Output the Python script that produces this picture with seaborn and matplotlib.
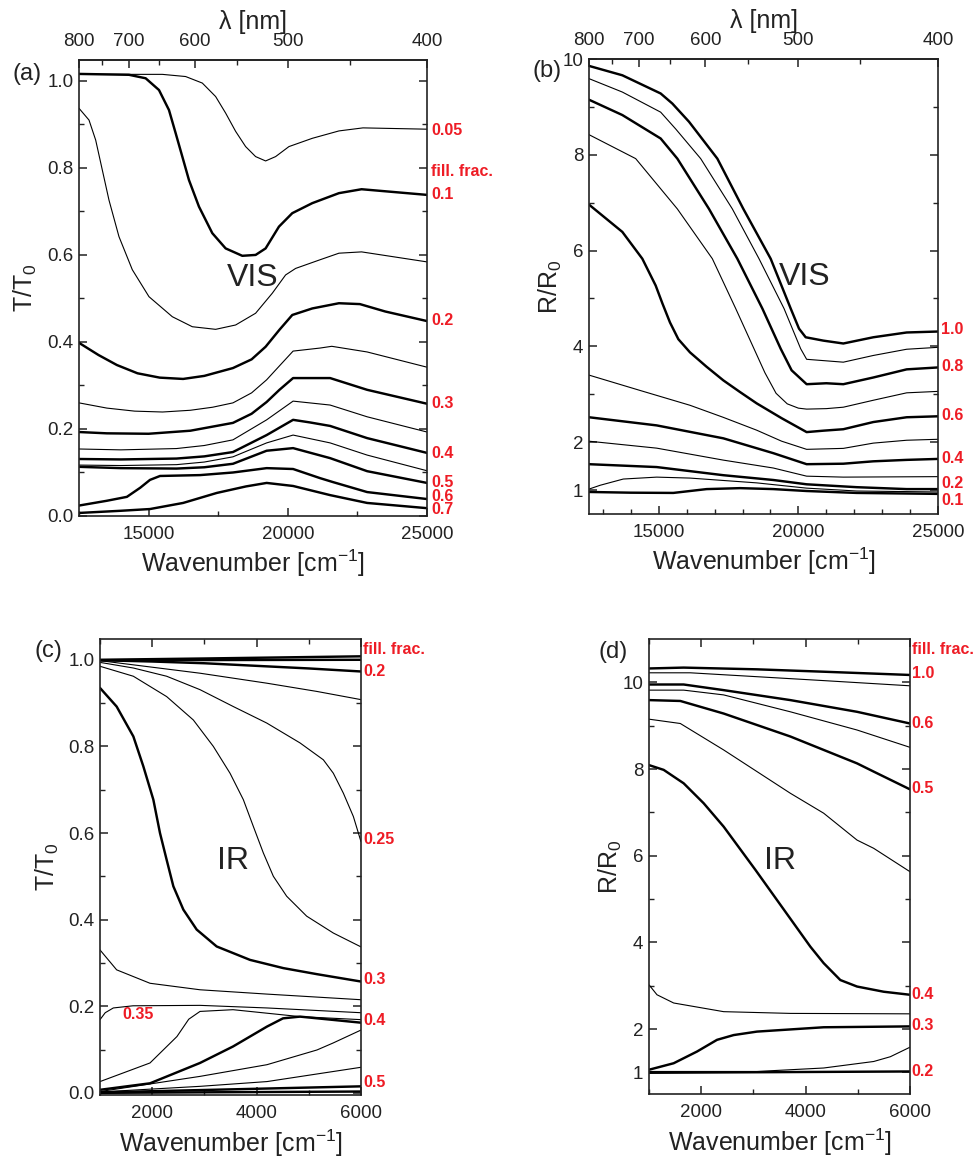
import numpy as np
import pandas as pd
import matplotlib
matplotlib.use("Agg")
import matplotlib.pyplot as plt
from matplotlib.ticker import FixedLocator, MultipleLocator, FormatStrFormatter
import seaborn as sns

sns.set_theme(style="ticks")
plt.rcParams['font.family'] = ['Liberation Sans', 'DejaVu Sans']
plt.rcParams['mathtext.fontset'] = 'custom'
plt.rcParams['mathtext.rm'] = 'Liberation Sans'
plt.rcParams['mathtext.it'] = 'Liberation Sans'
plt.rcParams['mathtext.default'] = 'regular'

# ---------------- Panel (a): T/T0, visible ----------------
a_005 = [(12500, 1.015), (15493, 1.015), (16330, 1.01), (16929, 0.995), (17408, 0.964), (17767, 0.926),
         (18126, 0.884), (18485, 0.849), (18844, 0.826), (19203, 0.816), (19562, 0.826), (20041, 0.849),
         (20879, 0.868), (21837, 0.885), (22700, 0.892), (25000, 0.889)]
a_01 = [(12500, 1.016), (14296, 1.014), (14894, 1.006), (15373, 0.979), (15732, 0.933), (15971, 0.88),
        (16211, 0.826), (16450, 0.772), (16809, 0.711), (17288, 0.65), (17767, 0.615), (18365, 0.598),
        (18844, 0.6), (19203, 0.615), (19682, 0.665), (20161, 0.696), (20879, 0.719), (21837, 0.742),
        (22650, 0.751), (25000, 0.738)]
a_015 = [(12500, 0.937), (12859, 0.91), (13099, 0.864), (13338, 0.795), (13577, 0.726), (13936, 0.642),
         (14415, 0.566), (15014, 0.504), (15852, 0.458), (16570, 0.435), (17408, 0.429), (18126, 0.439),
         (18844, 0.466), (19443, 0.512), (19921, 0.554), (20281, 0.569), (21118, 0.588), (21837, 0.604),
         (22650, 0.607), (25000, 0.584)]
a_02 = [(12500, 0.398), (13200, 0.37), (13860, 0.347), (14600, 0.328), (15400, 0.318), (16240, 0.315),
        (17000, 0.322), (18030, 0.34), (18700, 0.36), (19203, 0.389), (19700, 0.428), (20161, 0.462),
        (20879, 0.477), (21837, 0.489), (22590, 0.487), (23500, 0.47), (25000, 0.448)]
a_025 = [(12500, 0.26), (13500, 0.248), (14500, 0.241), (15500, 0.239), (16500, 0.243), (17300, 0.25),
         (18030, 0.26), (18700, 0.283), (19240, 0.313), (19700, 0.345), (20190, 0.379), (21160, 0.386),
         (21580, 0.39), (22850, 0.377), (25000, 0.342)]
a_03 = [(12500, 0.193), (13500, 0.19), (15000, 0.189), (16500, 0.196), (18030, 0.214), (18700, 0.235),
        (19240, 0.262), (19700, 0.29), (20190, 0.317), (20800, 0.317), (21520, 0.317), (22850, 0.29),
        (25000, 0.258)]
a_035 = [(12500, 0.154), (14000, 0.152), (16000, 0.155), (17000, 0.162), (18030, 0.175), (19240, 0.221),
         (20190, 0.264), (21520, 0.255), (22850, 0.228), (25000, 0.193)]
a_04 = [(12500, 0.131), (14000, 0.13), (16000, 0.132), (17000, 0.137), (18030, 0.147), (19240, 0.186),
        (20190, 0.221), (20800, 0.215), (21520, 0.207), (22850, 0.179), (25000, 0.145)]
a_045 = [(12500, 0.117), (14000, 0.116), (16000, 0.118), (17000, 0.124), (18030, 0.136), (19240, 0.168),
         (20190, 0.186), (21520, 0.168), (22850, 0.14), (25000, 0.104)]
a_05 = [(12500, 0.113), (14000, 0.11), (16000, 0.109), (17000, 0.112), (18030, 0.12), (19240, 0.15),
        (20190, 0.156), (21520, 0.133), (22850, 0.103), (25000, 0.076)]
a_06 = [(12500, 0.024), (13500, 0.035), (14220, 0.044), (14700, 0.065), (15050, 0.083), (15410, 0.092),
        (16850, 0.094), (18030, 0.1), (19240, 0.11), (20190, 0.108), (21160, 0.087), (21620, 0.078),
        (22850, 0.055), (25000, 0.039)]
a_07 = [(12500, 0.007), (14000, 0.012), (15050, 0.016), (16240, 0.03), (17450, 0.053), (18500, 0.068),
        (19240, 0.076), (20190, 0.069), (21520, 0.048), (22850, 0.03), (25000, 0.018)]

# ---------------- Panel (b): R/R0, visible ----------------
b_10 = [(12500, 9.856), (13694, 9.66), (15067, 9.28), (15485, 9.07), (16082, 8.69), (17097, 7.92),
        (18028, 6.87), (19007, 5.83), (19724, 4.79), (20022, 4.37), (20261, 4.19), (20892, 4.12),
        (21609, 4.06), (22683, 4.19), (23878, 4.29), (25000, 4.31)]
b_09 = [(12500, 9.59), (13694, 9.31), (15067, 8.89), (15604, 8.54), (16500, 7.92), (17634, 6.87),
        (18589, 5.83), (19485, 4.79), (20082, 3.95), (20295, 3.73), (21609, 3.67), (22683, 3.81),
        (23878, 3.94), (25000, 3.98)]
b_08 = [(12500, 9.15), (13694, 8.83), (15067, 8.34), (15664, 7.92), (16798, 6.87), (17813, 5.83),
        (18709, 4.79), (19366, 3.95), (19757, 3.5), (20295, 3.21), (21000, 3.23), (21609, 3.21),
        (22683, 3.35), (23878, 3.52), (25000, 3.56)]
b_07 = [(12500, 8.42), (14172, 7.92), (15664, 6.87), (16918, 5.83), (17754, 4.79), (18410, 3.95),
        (18800, 3.45), (19200, 3.02), (19600, 2.8), (20000, 2.71), (20295, 2.69), (21000, 2.7),
        (21609, 2.73), (22683, 2.875), (23878, 3.03), (25000, 3.06)]
b_06 = [(12500, 6.96), (13694, 6.39), (14410, 5.83), (14888, 5.27), (15127, 4.9), (15400, 4.5),
        (15700, 4.15), (16117, 3.875), (16700, 3.58), (17312, 3.29), (17900, 3.05), (18506, 2.81),
        (19400, 2.5), (20295, 2.21), (20900, 2.24), (21609, 2.27), (22683, 2.42), (23878, 2.52),
        (25000, 2.54)]
b_05 = [(12500, 3.40), (14327, 3.08), (16117, 2.77), (17300, 2.52), (18506, 2.25), (19400, 2.02),
        (20295, 1.85), (21609, 1.87), (22683, 1.98), (23878, 2.04), (25000, 2.06)]
b_04 = [(12500, 2.52), (14924, 2.35), (17312, 2.08), (19102, 1.77), (20295, 1.54), (21609, 1.55),
        (22683, 1.6), (23878, 1.63), (25000, 1.65)]
b_03 = [(12500, 2.02), (14924, 1.875), (17312, 1.625), (19102, 1.46), (20295, 1.29), (21609, 1.27),
        (25000, 1.28)]
b_02 = [(12500, 1.54), (14924, 1.48), (17312, 1.31), (19102, 1.21), (20295, 1.12), (22086, 1.06),
        (23878, 1.02), (25000, 1.02)]
b_015 = [(12500, 1.02), (12900, 1.1), (13728, 1.23), (14924, 1.27), (16117, 1.25), (18506, 1.15),
         (20295, 1.04), (22086, 0.98), (25000, 0.96)]
b_01 = [(12500, 0.96), (14000, 0.945), (15519, 0.94), (16714, 1.02), (17910, 1.04), (19102, 1.02),
        (20295, 0.98), (22086, 0.94), (25000, 0.92)]

# ---------------- Panel (c): T/T0, infrared ----------------
c_005 = [(1000, 1.0), (3000, 1.003), (6000, 1.008)]
c_01 = [(1000, 0.999), (6000, 1.0)]
c_02 = [(1000, 0.999), (2000, 0.996), (3000, 0.992), (4000, 0.986), (5000, 0.98), (6000, 0.973)]
c_022 = [(1000, 0.998), (2916, 0.969), (4193, 0.946), (5151, 0.927), (6000, 0.908)]
c_025 = [(1000, 0.994), (1639, 0.981), (2277, 0.962), (2916, 0.931), (3554, 0.892), (4193, 0.854),
         (4832, 0.808), (5279, 0.769), (5470, 0.738), (5662, 0.692), (5854, 0.638), (6000, 0.58)]
c_027 = [(1000, 0.985), (1639, 0.962), (2277, 0.915), (2788, 0.861), (3171, 0.8), (3491, 0.738),
         (3746, 0.677), (3938, 0.615), (4129, 0.554), (4321, 0.5), (4576, 0.454), (4959, 0.408),
         (5470, 0.369), (6000, 0.337)]
c_03 = [(1000, 0.935), (1319, 0.892), (1639, 0.823), (1830, 0.754), (2022, 0.677), (2149, 0.6),
        (2277, 0.538), (2405, 0.477), (2597, 0.423), (2852, 0.377), (3235, 0.338), (3874, 0.307),
        (4512, 0.288), (5157, 0.274), (6000, 0.257)]
c_032 = [(1000, 0.330), (1319, 0.284), (1958, 0.253), (2916, 0.238), (4199, 0.228), (6000, 0.215)]
c_035 = [(1000, 0.169), (1100, 0.185), (1255, 0.196), (1632, 0.201), (2916, 0.202), (4199, 0.196),
         (6000, 0.185)]
c_037 = [(1000, 0.026), (1958, 0.069), (2474, 0.13), (2700, 0.17), (2916, 0.188), (3548, 0.192),
         (4831, 0.176), (6000, 0.169)]
c_04 = [(1000, 0.007), (1958, 0.022), (2916, 0.069), (3548, 0.107), (4199, 0.153), (4506, 0.172),
        (4831, 0.176), (6000, 0.162)]
c_045 = [(1000, 0.003), (2916, 0.038), (4199, 0.065), (5157, 0.099), (5464, 0.115), (6000, 0.145)]
c_047 = [(1000, 0.002), (2916, 0.015), (4199, 0.026), (6000, 0.059)]
c_05 = [(1000, 0.001), (6000, 0.015)]
c_06 = [(1000, 0.0), (6000, 0.003)]

# ---------------- Panel (d): R/R0, infrared ----------------
d_10 = [(1000, 10.32), (1664, 10.34), (3069, 10.30), (4346, 10.245), (6000, 10.17)]
d_08 = [(1000, 10.22), (1792, 10.22), (3069, 10.13), (4346, 10.04), (6000, 9.92)]
d_06 = [(1000, 9.95), (1664, 9.95), (2430, 9.82), (3708, 9.59), (4985, 9.32), (6000, 9.05)]
d_055 = [(1000, 9.82), (1664, 9.82), (2430, 9.71), (3708, 9.32), (4985, 8.90), (6000, 8.50)]
d_05 = [(1000, 9.59), (1600, 9.57), (2430, 9.28), (3708, 8.75), (4985, 8.13), (5304, 7.94), (6000, 7.53)]
d_045 = [(1000, 9.15), (1600, 9.05), (2430, 8.44), (3708, 7.44), (4346, 6.98), (4985, 6.36),
         (5304, 6.17), (6000, 5.63)]
d_04 = [(1000, 8.09), (1281, 7.98), (1664, 7.67), (2047, 7.21), (2430, 6.67), (3040, 5.67),
        (4091, 3.90), (4346, 3.52), (4665, 3.13), (4985, 2.98), (5496, 2.86), (6000, 2.79)]
d_035 = [(1000, 3.02), (1153, 2.79), (1473, 2.60), (2430, 2.40), (3708, 2.36), (6000, 2.35)]
d_03 = [(1000, 1.06), (1473, 1.21), (1920, 1.48), (2303, 1.75), (2622, 1.86), (3069, 1.94),
        (4346, 2.04), (6000, 2.06)]
d_025 = [(1000, 1.02), (3069, 1.02), (4346, 1.10), (5304, 1.25), (5623, 1.36), (6000, 1.58)]
d_02 = [(1000, 0.99), (6000, 1.02)]

# curve lists with line style (thick / thin)
curves_a = [(a_005, 'thin'), (a_01, 'thick'), (a_015, 'thin'), (a_02, 'thick'), (a_025, 'thin'),
            (a_03, 'thick'), (a_035, 'thin'), (a_04, 'thick'), (a_045, 'thin'), (a_05, 'thick'),
            (a_06, 'thick'), (a_07, 'thick')]
curves_b = [(b_10, 'thick'), (b_09, 'thin'), (b_08, 'thick'), (b_07, 'thin'), (b_06, 'thick'),
            (b_05, 'thin'), (b_04, 'thick'), (b_03, 'thin'), (b_02, 'thick'), (b_015, 'thin'),
            (b_01, 'thick')]
curves_c = [(c_005, 'thick'), (c_01, 'thick'), (c_02, 'thick'), (c_022, 'thin'), (c_025, 'thin'),
            (c_027, 'thin'), (c_03, 'thick'), (c_032, 'thin'), (c_035, 'thin'), (c_037, 'thin'),
            (c_04, 'thick'), (c_045, 'thin'), (c_047, 'thin'), (c_05, 'thick'), (c_06, 'thick')]
curves_d = [(d_10, 'thick'), (d_08, 'thin'), (d_06, 'thick'), (d_055, 'thin'), (d_05, 'thick'),
            (d_045, 'thin'), (d_04, 'thick'), (d_035, 'thin'), (d_03, 'thick'), (d_025, 'thin'),
            (d_02, 'thick')]

# red fill-fraction labels: (text, y position)
labels_a = [('0.05', 0.885), ('fill. frac.', 0.791), ('0.1', 0.738), ('0.2', 0.449), ('0.3', 0.259),
            ('0.4', 0.1425), ('0.5', 0.0766), ('0.6', 0.0444), ('0.7', 0.0138)]
labels_b = [('1.0', 4.35), ('0.8', 3.57), ('0.6', 2.55), ('0.4', 1.65), ('0.2', 1.13), ('0.1', 0.79)]
labels_c = [('fill. frac.', 1.023), ('0.2', 0.972), ('0.25', 0.584), ('0.3', 0.261), ('0.4', 0.166),
            ('0.5', 0.023)]
labels_d = [('fill. frac.', 10.75), ('1.0', 10.21), ('0.6', 9.05), ('0.5', 7.54), ('0.4', 2.79),
            ('0.3', 2.07), ('0.2', 1.02)]

nm_major = [800, 700, 600, 500, 400]
nm_minor = [750, 650, 550, 450]

RED = '#ee1c25'
INK = '#222222'
W, H = 980, 1162
LW = {'thick': 1.75, 'thin': 0.8}

fig = plt.figure(figsize=(W / 100, H / 100), dpi=100)


def add_ax(l, t, r, b):
    return fig.add_axes([l / W, 1 - b / H, (r - l) / W, (b - t) / H])


ax_a = add_ax(79, 60, 427, 516)
ax_b = add_ax(589, 59, 938, 514)
ax_c = add_ax(100, 639, 361, 1095)
ax_d = add_ax(649, 639, 910, 1094)


def draw(ax, curves):
    for pts, style in curves:
        df = pd.DataFrame(pts, columns=['wn', 'val'])
        sns.lineplot(data=df, x='wn', y='val', ax=ax, color='black', lw=LW[style],
                     estimator=None, sort=False)


def style_axes(ax, top_secondary):
    for s in ax.spines.values():
        s.set_linewidth(1.2)
        s.set_color(INK)
    ax.tick_params(which='both', direction='in', right=True, top=not top_secondary,
                   labeltop=False, labelright=False, color=INK, labelcolor=INK)
    ax.tick_params(which='major', length=6, width=1.1, labelsize=13.5)
    ax.tick_params(which='minor', length=3.5, width=1.0)
    ax.tick_params(axis='x', which='major', pad=7.5)
    ax.tick_params(axis='y', which='major', pad=4)
    ax.set_xlabel('Wavenumber [cm$^{-1}$]', fontsize=18, color=INK)
    if top_secondary:
        def wn2nm(x):
            x = np.asarray(x, dtype=float)
            with np.errstate(divide='ignore', invalid='ignore'):
                return 1e7 / x
        sec = ax.secondary_xaxis('top', functions=(wn2nm, wn2nm))
        sec.xaxis.set_major_locator(FixedLocator(nm_major))
        sec.xaxis.set_minor_locator(FixedLocator(nm_minor))
        sec.tick_params(which='both', direction='in', color=INK, labelcolor=INK)
        sec.tick_params(which='major', length=6, width=1.1, labelsize=13.5, pad=7)
        sec.tick_params(which='minor', length=3.5, width=1.0)
        sec.spines['top'].set_linewidth(1.2)
        sec.set_xlabel('λ [nm]', fontsize=18, color=INK, labelpad=3)


def put_labels(ax, labels, xoff):
    for txt, y in labels:
        ax.text(xoff, y, txt, transform=ax.get_yaxis_transform(), color=RED, fontsize=11.5,
                fontweight='bold', ha='left', va='center', clip_on=False)


# panel (a)
draw(ax_a, curves_a)
ax_a.set_xlim(12500, 25000)
ax_a.set_ylim(0, 1.048)
ax_a.xaxis.set_major_locator(FixedLocator([15000, 20000, 25000]))
ax_a.xaxis.set_minor_locator(MultipleLocator(2500))
ax_a.yaxis.set_major_locator(MultipleLocator(0.2))
ax_a.yaxis.set_minor_locator(MultipleLocator(0.1))
ax_a.yaxis.set_major_formatter(FormatStrFormatter('%.1f'))
style_axes(ax_a, True)
ax_a.set_ylabel('T/T$_0$', fontsize=18, color=INK)
ax_a.yaxis.set_label_coords(-0.115, 0.5)
ax_a.xaxis.set_label_coords(0.5, -0.07)
put_labels(ax_a, labels_a, 1.012)
ax_a.text(18750, 0.547, 'VIS', fontsize=23, ha='center', va='center', color=INK)

# panel (b)
draw(ax_b, curves_b)
ax_b.set_xlim(12500, 25000)
ax_b.set_ylim(0.5, 10)
ax_b.xaxis.set_major_locator(FixedLocator([15000, 20000, 25000]))
ax_b.xaxis.set_minor_locator(MultipleLocator(1000))
ax_b.yaxis.set_major_locator(FixedLocator([1, 2, 4, 6, 8, 10]))
ax_b.yaxis.set_minor_locator(FixedLocator([3, 5, 7, 9]))
style_axes(ax_b, True)
ax_b.set_ylabel('R/R$_0$', fontsize=18, color=INK)
ax_b.yaxis.set_label_coords(-0.072, 0.5)
ax_b.xaxis.set_label_coords(0.5, -0.07)
put_labels(ax_b, labels_b, 1.009)
ax_b.text(20236, 5.45, 'VIS', fontsize=23, ha='center', va='center', color=INK)

# panel (c)
draw(ax_c, curves_c)
ax_c.set_xlim(1000, 6000)
ax_c.set_ylim(-0.005, 1.048)
ax_c.xaxis.set_major_locator(FixedLocator([2000, 4000, 6000]))
ax_c.xaxis.set_minor_locator(MultipleLocator(1000))
ax_c.yaxis.set_major_locator(MultipleLocator(0.2))
ax_c.yaxis.set_minor_locator(MultipleLocator(0.1))
ax_c.yaxis.set_major_formatter(FormatStrFormatter('%.1f'))
style_axes(ax_c, False)
ax_c.set_ylabel('T/T$_0$', fontsize=18, color=INK)
ax_c.yaxis.set_label_coords(-0.148, 0.5)
ax_c.xaxis.set_label_coords(0.5, -0.072)
put_labels(ax_c, labels_c, 1.008)
ax_c.text(1420, 0.18, '0.35', color=RED, fontsize=11.5, fontweight='bold', ha='left', va='center')
ax_c.text(3548, 0.536, 'IR', fontsize=23, ha='center', va='center', color=INK)

# panel (d)
draw(ax_d, curves_d)
ax_d.set_xlim(1000, 6000)
ax_d.set_ylim(0.5, 11.0)
ax_d.xaxis.set_major_locator(FixedLocator([2000, 4000, 6000]))
ax_d.xaxis.set_minor_locator(MultipleLocator(1000))
ax_d.yaxis.set_major_locator(FixedLocator([1, 2, 4, 6, 8, 10]))
ax_d.yaxis.set_minor_locator(FixedLocator([3, 5, 7, 9]))
style_axes(ax_d, False)
ax_d.set_ylabel('R/R$_0$', fontsize=18, color=INK)
ax_d.yaxis.set_label_coords(-0.094, 0.5)
ax_d.xaxis.set_label_coords(0.5, -0.072)
put_labels(ax_d, labels_d, 1.006)
ax_d.text(3510, 5.88, 'IR', fontsize=23, ha='center', va='center', color=INK)

# panel letters
for txt, x, y in [('(a)', 12, 74), ('(b)', 532, 71), ('(c)', 35, 651), ('(d)', 598, 652)]:
    fig.text(x / W, 1 - y / H, txt, fontsize=17, ha='left', va='center', color=INK)

fig.savefig('out.png', dpi=100)
